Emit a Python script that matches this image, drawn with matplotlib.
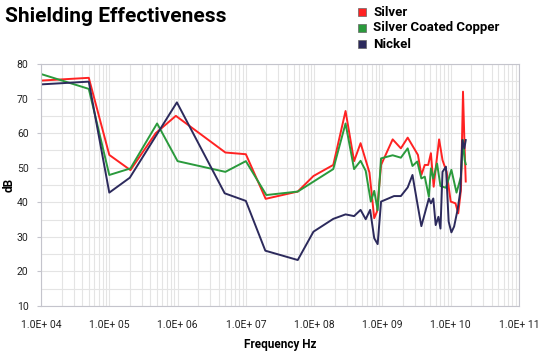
import matplotlib
matplotlib.use("Agg")
import matplotlib.pyplot as plt
from matplotlib.ticker import LogLocator, MultipleLocator, FixedLocator
from matplotlib.patches import Rectangle

# log10 of frequency (Hz) and dB values
silver_lf = [4.0, 4.70, 5.0, 5.31, 5.68, 5.975, 6.70, 7.0, 7.29, 7.76, 7.99, 8.28, 8.46,
             8.585, 8.68, 8.81, 8.88, 8.92, 8.98, 9.15, 9.27, 9.37, 9.52, 9.57, 9.62,
             9.67, 9.71, 9.75, 9.78, 9.83, 9.88, 9.94, 10.0, 10.07, 10.11, 10.15, 10.18,
             10.20, 10.22]
silver_db = [75.2, 76.0, 53.7, 49.3, 60.0, 65.0, 54.4, 53.9, 41.0, 43.1, 47.6, 50.8, 66.4,
             51.9, 57.1, 48.6, 35.4, 37.3, 50.8, 58.2, 55.6, 58.7, 53.7, 47.9, 50.8,
             50.8, 54.2, 44.5, 49.8, 58.2, 52.2, 48.8, 40.2, 39.7, 36.8, 43.6, 72.0,
             58.0, 46.0]

copper_lf = [4.0, 4.70, 5.0, 5.31, 5.70, 6.0, 6.70, 7.0, 7.30, 7.76, 8.28, 8.46, 8.585,
             8.68, 8.755, 8.83, 8.88, 8.93, 8.98, 9.15, 9.27, 9.37, 9.44, 9.51, 9.57,
             9.62, 9.68, 9.71, 9.745, 9.80, 9.85, 9.93, 10.01, 10.085, 10.15, 10.18,
             10.205, 10.22]
copper_db = [77.1, 72.8, 47.9, 49.8, 62.8, 51.9, 48.8, 51.9, 42.1, 43.1, 49.6, 62.8, 49.6,
             52.0, 49.1, 40.2, 43.3, 37.7, 52.7, 53.6, 52.9, 55.6, 50.5, 51.8, 46.9,
             47.4, 41.6, 49.8, 46.9, 51.2, 44.7, 44.2, 49.4, 42.8, 47.4, 58.0,
             52.2, 51.0]

nickel_lf = [4.0, 4.70, 5.0, 5.30, 5.99, 6.69, 7.0, 7.285, 7.76, 7.99, 8.28, 8.46, 8.585,
             8.68, 8.755, 8.82, 8.88, 8.93, 8.98, 9.17, 9.27, 9.37, 9.44, 9.52, 9.57,
             9.68, 9.71, 9.745, 9.78, 9.82, 9.85, 9.88, 9.93, 9.97, 10.01, 10.05, 10.10,
             10.14, 10.17, 10.20, 10.22]
nickel_db = [74.1, 74.9, 42.8, 47.1, 68.9, 42.6, 40.4, 26.0, 23.3, 31.5, 35.2, 36.5, 36.0,
             37.8, 35.1, 37.8, 29.6, 27.9, 40.2, 41.8, 41.8, 44.3, 47.9, 38.7, 33.1,
             41.1, 39.7, 41.1, 33.4, 35.8, 32.4, 48.8, 50.3, 34.4, 31.3, 33.0, 37.8,
             43.1, 58.0, 55.6, 58.0]

series = [("Silver", silver_lf, silver_db, "#ff2222"),
          ("Silver Coated Copper", copper_lf, copper_db, "#2a9a3c"),
          ("Nickel", nickel_lf, nickel_db, "#2c2a5c")]

xtick_labels = ["1.0E+ 04", "1.0E+ 05", "1.0E+ 06", "1.0E+ 07",
                "1.0E+ 08", "1.0E+ 09", "1.0E+ 10", "1.0E+ 11"]

font = ["Roboto", "Liberation Sans", "DejaVu Sans"]

W, H = 539, 354
fig = plt.figure(figsize=(W / 100, H / 100), dpi=100)
ax = fig.add_axes([41 / W, 1 - 306 / H, (519 - 41) / W, (306 - 64) / H])

for name, lf, db, col in series:
    ax.plot([10 ** v for v in lf], db, color=col, linewidth=1.4, label=name)

ax.set_xscale("log")
ax.set_xlim(1e4, 1e11)
ax.set_ylim(10, 80)
ax.xaxis.set_major_locator(FixedLocator([10 ** k for k in range(4, 12)]))
ax.xaxis.set_minor_locator(LogLocator(base=10, subs=range(2, 10), numticks=20))
ax.set_xticklabels(xtick_labels, family=font, fontsize=7.5, color="#222222")
ax.yaxis.set_major_locator(MultipleLocator(10))
ax.yaxis.set_minor_locator(MultipleLocator(5))
for lab in ax.get_yticklabels():
    lab.set_family(font)
    lab.set_fontsize(7.5)
    lab.set_color("#222222")

ax.grid(True, which="both", color="#e4e4e4", linewidth=0.8)
ax.set_axisbelow(True)
for s in ax.spines.values():
    s.set_color("#c4c4cc")
ax.tick_params(which="both", length=0)
ax.tick_params(axis="x", pad=10)
ax.tick_params(axis="y", which="major", length=3, color="#c4c4cc", pad=6)

ax.set_xlabel("Frequency Hz", family=font, fontweight="bold", fontsize=8.5, labelpad=6)
ax.set_ylabel("dB", family=font, fontweight="bold", fontsize=8.5, va="center")
ax.yaxis.set_label_coords(-32 / 478, 0.5)

fig.text(5 / W, 1 - 17 / H, "Shielding Effectiveness", family=font, fontweight="bold",
         fontsize=15, va="center", ha="left")

for i, (name, lf, db, col) in enumerate(series):
    yc = 12 + i * 16
    fig.patches.append(Rectangle((358 / W, 1 - (yc + 4) / H), 8 / W, 8 / H,
                                 transform=fig.transFigure, facecolor=col,
                                 edgecolor="#666666", linewidth=0.5))
    fig.text(373 / W, 1 - yc / H, name, family=font, fontweight="bold",
             fontsize=9.5, va="center", ha="left")

fig.savefig("out.png", dpi=100)
